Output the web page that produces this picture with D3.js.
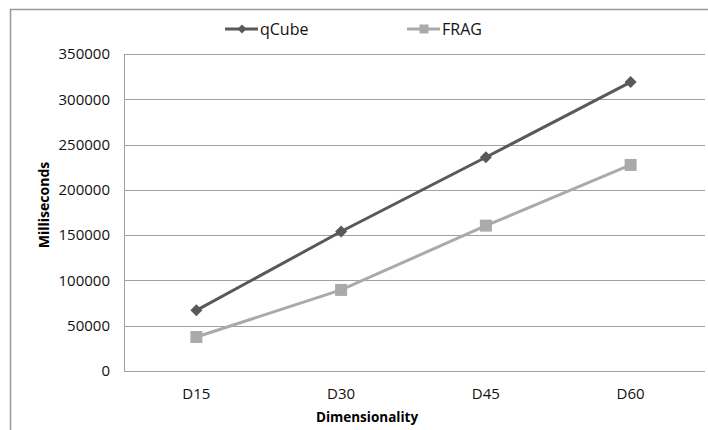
<!DOCTYPE html>
<html>
<head>
<meta charset="utf-8">
<script src="https://cdn.jsdelivr.net/npm/d3@7"></script>
<style>
  body { margin: 0; background: #fff; }
  svg { display: block; font-family: "Open Sans", sans-serif; }
</style>
</head>
<body>
<div id="chart"></div>
<script>
// chart data
var categories = ["D15", "D30", "D45", "D60"];
var qCube = [67000, 154000, 236000, 319000];
var frag = [37500, 89500, 160500, 227500];
var yTicks = [0, 50000, 100000, 150000, 200000, 250000, 300000, 350000];
var seriesNames = ["qCube", "FRAG"];

var width = 708, height = 430;
var margin = {top: 54, right: 5, bottom: 59, left: 124};

var svg = d3.select("#chart").append("svg")
  .attr("width", width)
  .attr("height", height);

// outer frame (cropped at right and bottom)
svg.append("path")
  .attr("d", "M10.5,430 L10.5,9.5 L708,9.5")
  .attr("fill", "none")
  .attr("stroke", "#999")
  .attr("stroke-width", 1.5);

var x = d3.scaleBand()
  .domain(categories)
  .range([margin.left, width - margin.right]);

var y = d3.scaleLinear()
  .domain([0, 350000])
  .range([height - margin.bottom, margin.top]);

// gridlines
svg.append("g")
  .selectAll("line")
  .data(yTicks)
  .enter().append("line")
    .attr("x1", margin.left)
    .attr("x2", width - margin.right + 2)
    .attr("y1", function(d) { return Math.round(y(d)) + 0.5; })
    .attr("y2", function(d) { return Math.round(y(d)) + 0.5; })
    .attr("stroke", "#a0a0a0")
    .attr("stroke-width", 1);

// y axis line
svg.append("line")
  .attr("x1", margin.left + 0.5).attr("x2", margin.left + 0.5)
  .attr("y1", y(350000)).attr("y2", y(0))
  .attr("stroke", "#a0a0a0");

// y tick labels
svg.append("g")
  .selectAll("text")
  .data(yTicks)
  .enter().append("text")
    .attr("x", 110)
    .attr("y", function(d) { return y(d); })
    .attr("dy", "0.35em")
    .attr("text-anchor", "end")
    .attr("font-size", 15)
    .attr("fill", "#111")
    .text(function(d) { return d; });

// x tick labels
svg.append("g")
  .selectAll("text")
  .data(categories)
  .enter().append("text")
    .attr("x", function(d) { return x(d) + x.bandwidth() / 2; })
    .attr("y", 394)
    .attr("dy", "0.35em")
    .attr("text-anchor", "middle")
    .attr("font-size", 15)
    .attr("fill", "#111")
    .text(function(d) { return d; });

// axis titles
svg.append("text")
  .attr("x", 367).attr("y", 417)
  .attr("dy", "0.35em")
  .attr("text-anchor", "middle")
  .attr("font-size", 13.5)
  .attr("font-weight", "bold")
  .attr("fill", "#000")
  .text("Dimensionality");

svg.append("text")
  .attr("transform", "translate(44,205) rotate(-90)")
  .attr("dy", "0.35em")
  .attr("text-anchor", "middle")
  .attr("font-size", 14)
  .attr("font-weight", "bold")
  .attr("fill", "#000")
  .text("Milliseconds");

var colors = {qCube: "#595959", FRAG: "#aaaaaa"};
var line = d3.line()
  .x(function(d, i) { return x(categories[i]) + x.bandwidth() / 2; })
  .y(function(d) { return y(d); });

function drawSeries(name, values, diamond, size) {
  svg.append("path")
    .datum(values)
    .attr("d", line)
    .attr("fill", "none")
    .attr("stroke", colors[name])
    .attr("stroke-width", 3);
  svg.append("g")
    .selectAll("path")
    .data(values)
    .enter().append("path")
      .attr("transform", function(d, i) {
        return "translate(" + (x(categories[i]) + x.bandwidth() / 2) + "," + y(d) + ")" +
          (diamond ? " rotate(45)" : "");
      })
      .attr("d", d3.symbol().type(d3.symbolSquare).size(size))
      .attr("fill", colors[name]);
}

drawSeries("qCube", qCube, true, 72);
drawSeries("FRAG", frag, false, 144);

// legend
var legend = [
  {name: seriesNames[0], x: 225, diamond: true},
  {name: seriesNames[1], x: 407, diamond: false}
];
legend.forEach(function(l) {
  var g = svg.append("g").attr("transform", "translate(" + l.x + ",29)");
  g.append("line")
    .attr("x1", 0).attr("x2", 33)
    .attr("stroke", colors[l.name])
    .attr("stroke-width", 3);
  g.append("path")
    .attr("transform", "translate(17,0)" + (l.diamond ? " rotate(45)" : ""))
    .attr("d", d3.symbol().type(d3.symbolSquare).size(l.diamond ? 40 : 81))
    .attr("fill", colors[l.name]);
  g.append("text")
    .attr("x", 35)
    .attr("dy", "0.35em")
    .attr("font-size", 16)
    .attr("fill", "#111")
    .text(l.name);
});
</script>
</body>
</html>
